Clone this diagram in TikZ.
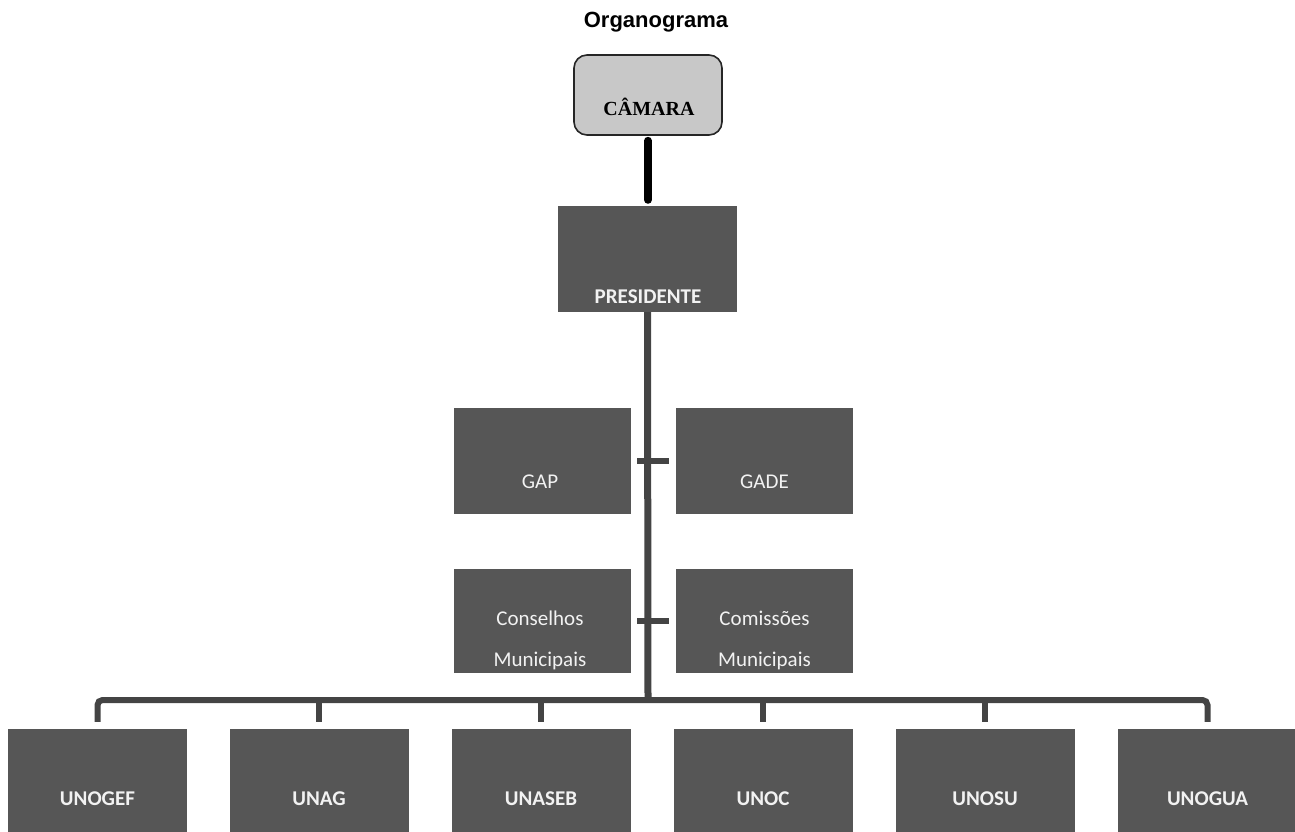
\documentclass[tikz,border=0pt]{standalone}
\usepackage{fontspec}
\setmainfont{Carlito}
\newfontfamily\titlefont{Liberation Sans}
\newfontfamily\camfont{Liberation Serif}
\begin{document}
\begin{tikzpicture}[x=1pt,y=-1pt,
  box/.style={rectangle, fill=boxgray, draw=none, inner sep=0pt},
  lbl/.style={text=boxtext, font=\fontsize{21}{23}\selectfont\bfseries, inner sep=0pt},
  lblr/.style={text=boxtext, font=\fontsize{21}{41}\selectfont, inner sep=0pt, align=center},
  trunk/.style={draw=linegray, line width=7pt},
  tick/.style={draw=linegray, line width=6pt},
  bus/.style={draw=linegray, line width=6pt, rounded corners=5pt}
]
\definecolor{boxgray}{HTML}{565656}
\definecolor{boxtext}{HTML}{F2F2F2}
\definecolor{linegray}{HTML}{444444}
\definecolor{camgray}{HTML}{C8C8C8}
\useasboundingbox (0,0) rectangle (1295,832);

\node[font=\titlefont\fontsize{22}{25}\selectfont\bfseries] (title) at (656,22) {Organograma};

\node[rectangle, rounded corners=13pt, fill=camgray, draw=black!85, line width=1.6pt,
      minimum width=148pt, minimum height=80pt] (cam) at (648,95) {};
\node[font=\camfont\fontsize{20}{22}\selectfont\bfseries, inner sep=0pt] (camt) at (649,107) {CÂMARA};

\node[box, minimum width=179pt, minimum height=106pt] (pres) at (647.5,259) {};
\node[lbl] (prest) at (648,297) {PRESIDENTE};

\node[box, minimum width=177pt, minimum height=106pt] (gap) at (542.5,461) {};
\node[lblr] (gapt) at (540,482) {GAP};
\node[box, minimum width=177pt, minimum height=106pt] (gade) at (764.5,461) {};
\node[lblr] (gadet) at (764.5,482) {GADE};

\node[box, minimum width=177pt, minimum height=104pt] (cons) at (542.5,621) {};
\node[lblr] (const) at (540,640) {Conselhos\\Municipais};
\node[box, minimum width=177pt, minimum height=104pt] (comi) at (764.5,621) {};
\node[lblr] (comit) at (764.5,640) {Comissões\\Municipais};

\foreach \n/\x/\t in {u1/97.5/UNOGEF, u2/319/UNAG, u3/541/UNASEB, u4/763/UNOC, u5/985/UNOSU, u6/1207.5/UNOGUA}{
  \node[box, minimum width=179pt, minimum height=103pt] (\n) at (\x,780.5) {};
  \node[lbl] (\n t) at (\x,799) {\t};
}

\coordinate (bus) at (648,700);

\draw[line width=8pt, line cap=round, black, shorten <=5pt, shorten >=6pt] (cam.south) -- (cam.south |- pres.north);
\draw[trunk] (pres.south) -- (bus);
\draw[tick] ([xshift=6pt]gap.east) -- ([xshift=-7pt]gade.west);
\draw[tick] ([xshift=6pt]cons.east) -- ([xshift=-7pt]comi.west);
\draw[bus] ([yshift=7pt]u1.north) |- (bus) -| ([yshift=7pt]u6.north);
\foreach \n in {u2,u3,u4,u5}{
  \draw[tick] (bus -| \n.north) -- ([yshift=7pt]\n.north);
}
\end{tikzpicture}
\end{document}
